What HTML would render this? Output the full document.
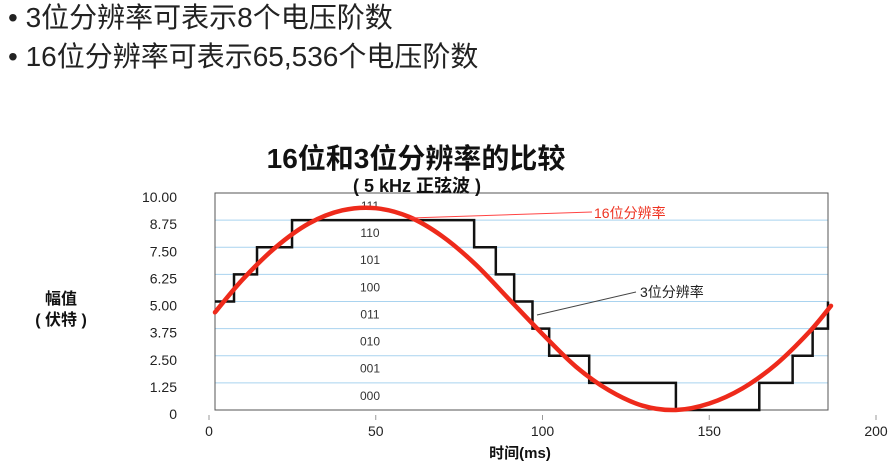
<!DOCTYPE html>
<html><head><meta charset="utf-8"><style>
body{margin:0;background:#fff;width:890px;height:467px;overflow:hidden;font-family:"Liberation Sans","Noto Sans CJK SC",sans-serif}
.b{position:absolute;left:8px;font-size:28px;color:#222;white-space:nowrap;line-height:34px}
</style></head><body>
<div class="b" style="top:1px">•&nbsp;3位分辨率可表示8个电压阶数</div>
<div class="b" style="top:40px">•&nbsp;16位分辨率可表示65,536个电压阶数</div>
<svg id="c" width="890" height="467" style="position:absolute;left:0;top:0"></svg>
<script>
const xTicks=[0,50,100,150,200];
const yTicks=[0,1.25,2.5,3.75,5,6.25,7.5,8.75,10];
const yTickLabels=["0","1.25","2.50","3.75","5.00","6.25","7.50","8.75","10.00"];
const codeLabels=["000","001","010","011","100","101","110","111"];
const stepTimes=[1.8,7.5,14.4,24.9,79.5,86,91.5,97,102,114,140,165,175,181,185.6];
const stepLevels=[5,6.25,7.5,8.75,7.5,6.25,5,3.75,2.5,1.25,0,1.25,2.5,3.75,5];
const sineTimes=[1.8,10,20,30,40,50,60,70,80,90,100,110,120,130,140,150,160,170,180,186.5];
const sineValues=[4.5,6.0,7.5,8.6,9.2,9.3,8.9,8.0,6.7,5.1,3.5,2.0,0.9,0.2,0.0,0.3,1.0,2.1,3.6,4.8];
const svg=document.getElementById('c');const NS='http://www.w3.org/2000/svg';
const X=t=>209+t*3.335, Y=v=>410-v*21.7;
function el(tag,a,txt){const e=document.createElementNS(NS,tag);for(const k in a)e.setAttribute(k,a[k]);if(txt!==undefined)e.textContent=txt;svg.appendChild(e);return e;}
const x0=215,x1=828;
yTicks.forEach((v,i)=>{if(v>0&&v<10){const g=el('line',{x1:x0,x2:x1,y1:Y(v),y2:Y(v),stroke:'#a9d3ef','stroke-width':1});

}
const t=el('text',{x:177,y:Y(v)+9,'text-anchor':'end','font-size':14,fill:'#222'},yTickLabels[i]);

});
const box=el('rect',{x:x0,y:Y(10),width:x1-x0,height:Y(0)-Y(10),fill:'none',stroke:'#555','stroke-width':1});


xTicks.forEach(t=>{const l=el('line',{x1:X(t),x2:X(t),y1:415,y2:420,stroke:'#999'});


const tx=el('text',{x:X(t),y:436,'text-anchor':'middle','font-size':14,fill:'#222'},String(t));

});
codeLabels.forEach((c,i)=>{const tx=el('text',{x:370,y:Y(i*1.25+0.7)+5,'text-anchor':'middle','font-size':12,fill:'#333'},c);

});
let d='';stepTimes.forEach((t,i)=>{if(i==0)d+='M'+X(t)+','+Y(stepLevels[i]);else d+='H'+X(t)+'V'+Y(stepLevels[i]);});
const s=el('path',{d:d,fill:'none',stroke:'#111','stroke-width':2.5});


let p=sineTimes.map((t,i)=>[X(t),Y(sineValues[i])]);
let sd='M'+p[0];for(let i=0;i<p.length-1;i++){const a=p[i-1]||p[i],b=p[i],c=p[i+1],e=p[i+2]||c;
sd+='C'+(b[0]+(c[0]-a[0])/6)+','+(b[1]+(c[1]-a[1])/6)+' '+(c[0]-(e[0]-b[0])/6)+','+(c[1]-(e[1]-b[1])/6)+' '+c[0]+','+c[1];}
const r=el('path',{d:sd,fill:'none',stroke:'#ee2a1b','stroke-width':4.5,'stroke-linecap':'round'});


const a1=el('line',{x1:592,y1:212,x2:410,y2:218,stroke:'#f44','stroke-width':1});


const t1=el('text',{x:594,y:218,'font-size':14,fill:'#ee3322'},'16位分辨率');


const a2=el('line',{x1:636,y1:292,x2:537,y2:315,stroke:'#444','stroke-width':1});


const t2=el('text',{x:640,y:297,'font-size':14,fill:'#222'},'3位分辨率');


const ti=el('text',{x:416,y:168,'text-anchor':'middle','font-size':28,'font-weight':'bold',fill:'#111'},'16位和3位分辨率的比较');


const st=el('text',{x:417,y:192,'text-anchor':'middle','font-size':18,'font-weight':'bold',fill:'#111'},'( 5 kHz 正弦波 )');


const y1=el('text',{x:61,y:304,'text-anchor':'middle','font-size':16,'font-weight':'bold',fill:'#111'},'幅值');


const y2=el('text',{x:61,y:325,'text-anchor':'middle','font-size':16,'font-weight':'bold',fill:'#111'},'( 伏特 )');


const xl=el('text',{x:520,y:458,'text-anchor':'middle','font-size':15,'font-weight':'bold',fill:'#111'},'时间(ms)');


</script>
</body></html>
